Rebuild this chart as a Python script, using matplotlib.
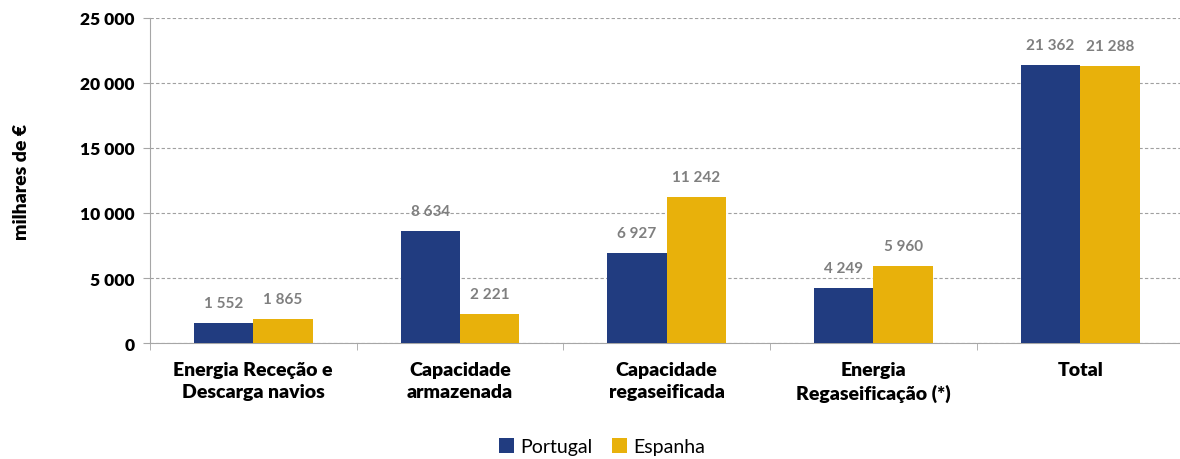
import matplotlib
matplotlib.use("Agg")
import matplotlib.pyplot as plt
import numpy as np

categories = ["Energia Receção e\nDescarga navios", "Capacidade\narmazenada",
              "Capacidade\nregaseificada", "Energia\nRegaseificação (*)", "Total"]
portugal = [1552, 8634, 6927, 4249, 21362]
espanha = [1865, 2221, 11242, 5960, 21288]
yticks = [0, 5000, 10000, 15000, 20000, 25000]

plt.rcParams["font.family"] = ["Lato", "DejaVu Sans"]

def fmt(v):
    return f"{v:,}".replace(",", " ")

fig = plt.figure(figsize=(11.8, 4.6), dpi=100)
ax = fig.add_axes([0.127, 0.252, 0.876, 0.707])

x = np.arange(len(categories))
w = 0.287
c_pt = "#213C80"
c_es = "#E8B10B"
b1 = ax.bar(x - w / 2, portugal, w, color=c_pt, label="Portugal", zorder=3)
b2 = ax.bar(x + w / 2, espanha, w, color=c_es, label="Espanha", zorder=3)

for bars, vals in ((b1, portugal), (b2, espanha)):
    for r, v in zip(bars, vals):
        ax.text(r.get_x() + r.get_width() / 2, v + 1000, fmt(v), ha="center",
                va="bottom", fontsize=11, fontweight="bold", color="#7F7F7F")

ax.set_xlim(-0.5, len(categories) - 0.5)
ax.set_ylim(0, 25000)
ax.set_yticks(yticks)
ax.set_yticklabels([fmt(v) for v in yticks], fontsize=12.5, fontweight="heavy")
ax.set_xticks(x)
ax.set_xticklabels(categories, fontsize=14, fontweight="heavy", linespacing=1.35)
ax.tick_params(axis="x", length=0, pad=13)
ax.set_xticks(np.arange(-0.5, len(categories)), minor=True)
ax.tick_params(axis="x", which="minor", length=5, color="#A6A6A6", direction="out")
ax.tick_params(axis="y", length=5, color="#A6A6A6", pad=6)

ax.grid(axis="y", linestyle=(0, (3, 2)), color="#A0A0A0", linewidth=0.8, zorder=0)
for s in ["top", "right"]:
    ax.spines[s].set_visible(False)
ax.spines["left"].set_color("#A6A6A6")
ax.spines["bottom"].set_color("#A6A6A6")

ax.set_ylabel("milhares de €", fontsize=14, fontweight="heavy", labelpad=36)

fig.legend(handles=[b1, b2], loc="center", bbox_to_anchor=(0.51, 0.027), ncol=2,
           frameon=False, fontsize=14, handlelength=0.8, handleheight=0.8,
           handletextpad=0.3, columnspacing=1.0)

fig.savefig("out.png", dpi=100)
